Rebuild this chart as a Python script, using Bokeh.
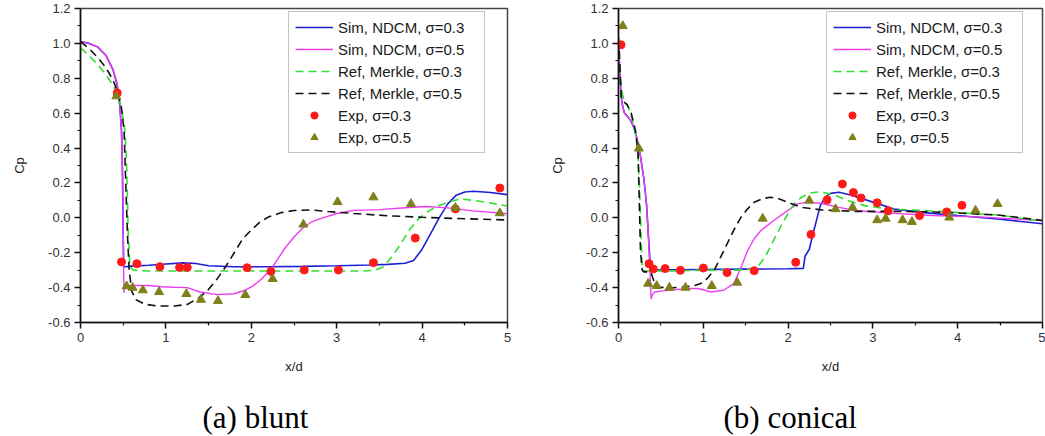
from bokeh.plotting import figure
from bokeh.layouts import row, column
from bokeh.models import Range1d, FixedTicker, PrintfTickFormatter, Label
from bokeh.embed import file_html
from bokeh.resources import INLINE

# ---------------- (a) blunt ----------------
blunt_sim03_x = [0, 0.1, 0.2, 0.3, 0.38, 0.43, 0.46, 0.48, 0.49, 0.5, 0.505, 0.52, 0.6, 0.8, 1.0, 1.2, 1.35, 1.5, 1.8,
                 2.2, 2.6, 3.0, 3.4, 3.6, 3.8, 3.9, 4.0, 4.1, 4.2, 4.3, 4.4, 4.5, 4.6, 4.8, 5.0]
blunt_sim03_y = [1.01, 1.0, 0.98, 0.93, 0.85, 0.76, 0.64, 0.5, 0.3, -0.1, -0.28, -0.28, -0.277, -0.272, -0.265, -0.258,
                 -0.262, -0.275, -0.28, -0.28, -0.278, -0.275, -0.27, -0.267, -0.26, -0.245, -0.18, -0.09, 0.0, 0.08,
                 0.13, 0.148, 0.152, 0.145, 0.133]

blunt_sim05_x = [0, 0.1, 0.2, 0.3, 0.38, 0.43, 0.46, 0.48, 0.495, 0.505, 0.51, 0.515, 0.53, 0.6, 0.8, 0.95, 1.1, 1.25,
                 1.4, 1.6, 1.8, 1.93, 2.02, 2.11, 2.2, 2.27, 2.4, 2.5, 2.6, 2.7, 2.8, 3.0, 3.2, 3.5, 3.8, 4.05, 4.3,
                 4.6, 5.0]
blunt_sim05_y = [1.01, 1.0, 0.98, 0.93, 0.85, 0.77, 0.66, 0.5, 0.2, -0.3, -0.43, -0.40, -0.39, -0.387, -0.388, -0.395,
                 -0.398, -0.40, -0.425, -0.44, -0.435, -0.415, -0.39, -0.355, -0.31, -0.265, -0.17, -0.11, -0.06,
                 -0.025, -0.006, 0.025, 0.043, 0.047, 0.058, 0.065, 0.057, 0.04, 0.023]

blunt_ref03_x = [0, 0.1, 0.2, 0.3, 0.38, 0.43, 0.48, 0.52, 0.54, 0.56, 0.58, 0.62, 0.8, 1.5, 2.5, 3.3, 3.45, 3.55, 3.65,
                 3.75, 3.85, 3.95, 4.05, 4.15, 4.3, 4.45, 4.6, 4.8, 5.0]
blunt_ref03_y = [0.975, 0.93, 0.88, 0.82, 0.76, 0.71, 0.63, 0.5, 0.3, -0.1, -0.28, -0.3, -0.305, -0.305, -0.305, -0.305,
                 -0.3, -0.28, -0.22, -0.15, -0.07, -0.01, 0.03, 0.06, 0.09, 0.108, 0.1, 0.085, 0.068]

blunt_ref05_x = [0, 0.1, 0.2, 0.3, 0.38, 0.43, 0.48, 0.51, 0.53, 0.55, 0.57, 0.6, 0.65, 0.75, 0.9, 1.1, 1.25, 1.38, 1.5,
                 1.6, 1.7, 1.8, 1.9, 2.0, 2.1, 2.2, 2.35, 2.5, 2.7, 2.9, 3.2, 3.6, 4.0, 4.4, 5.0]
blunt_ref05_y = [1.01, 0.97, 0.92, 0.86, 0.79, 0.73, 0.63, 0.5, 0.2, -0.1, -0.3, -0.42, -0.47, -0.495, -0.505, -0.505,
                 -0.497, -0.46, -0.41, -0.35, -0.28, -0.2, -0.12, -0.07, -0.025, 0.005, 0.03, 0.042, 0.045, 0.036,
                 0.025, 0.012, 0.003, -0.004, -0.012]

blunt_exp03_x = [0.43, 0.48, 0.66, 0.93, 1.16, 1.25, 1.95, 2.23, 2.62, 3.02, 3.43, 3.92, 4.39, 4.91]
blunt_exp03_y = [0.716, -0.253, -0.263, -0.28, -0.284, -0.284, -0.286, -0.307, -0.299, -0.299, -0.257, -0.116, 0.051,
                 0.171]

blunt_exp05_x = [0.42, 0.54, 0.61, 0.73, 0.92, 1.24, 1.41, 1.61, 1.93, 2.25, 2.61, 3.01, 3.43, 3.87, 4.39, 4.91]
blunt_exp05_y = [0.697, -0.392, -0.40, -0.415, -0.425, -0.436, -0.469, -0.476, -0.442, -0.35, -0.038, 0.091, 0.118,
                 0.08, 0.058, 0.027]

# ---------------- (b) conical ----------------
con_sim03_x = [0, 0.01, 0.02, 0.04, 0.07, 0.1, 0.14, 0.18, 0.22, 0.26, 0.3, 0.33, 0.35, 0.37, 0.385, 0.4, 0.6, 1.0,
               1.5, 2.0, 2.18, 2.2, 2.25, 2.3, 2.38, 2.44, 2.5, 2.6, 2.75, 3.0, 3.25, 3.6, 4.0, 4.5, 5.0]
con_sim03_y = [1.0, 0.9, 0.78, 0.66, 0.6, 0.585, 0.56, 0.52, 0.45, 0.35, 0.22, 0.08, -0.08, -0.24, -0.29, -0.3,
               -0.298, -0.296, -0.294, -0.292, -0.29, -0.22, -0.18, -0.08, 0.07, 0.12, 0.14, 0.147, 0.13, 0.09, 0.05,
               0.03, 0.013, -0.008, -0.034]

con_sim05_x = [0, 0.01, 0.02, 0.04, 0.07, 0.1, 0.14, 0.18, 0.22, 0.26, 0.3, 0.33, 0.35, 0.37, 0.385, 0.4, 0.43, 0.5,
               0.7, 0.85, 0.93, 1.0, 1.09, 1.24, 1.36, 1.44, 1.52, 1.6, 1.68, 1.83, 1.99, 2.11, 2.23, 2.4, 2.6, 2.8,
               3.2, 3.7, 4.3, 5.0]
con_sim05_y = [1.0, 0.9, 0.78, 0.66, 0.6, 0.585, 0.56, 0.52, 0.45, 0.35, 0.22, 0.08, -0.08, -0.3, -0.465, -0.44,
               -0.425, -0.42, -0.41, -0.405, -0.405, -0.412, -0.425, -0.415, -0.377, -0.29, -0.19, -0.12, -0.073,
               -0.015, 0.04, 0.08, 0.09, 0.082, 0.06, 0.042, 0.027, 0.013, 0.004, -0.015]

con_ref03_x = [0, 0.02, 0.05, 0.08, 0.12, 0.16, 0.2, 0.23, 0.25, 0.265, 0.28, 0.3, 0.35, 0.6, 1.0, 1.4, 1.55, 1.64,
               1.72, 1.79, 1.86, 1.93, 2.0, 2.07, 2.15, 2.23, 2.3, 2.38, 2.55, 2.7, 2.9, 3.2, 3.6, 4.0, 4.5, 5.0]
con_ref03_y = [0.95, 0.8, 0.7, 0.66, 0.63, 0.57, 0.48, 0.38, 0.15, -0.1, -0.28, -0.305, -0.305, -0.305, -0.3, -0.3,
               -0.295, -0.282, -0.23, -0.168, -0.1, -0.034, 0.025, 0.08, 0.115, 0.137, 0.145, 0.15, 0.13, 0.1, 0.07,
               0.05, 0.042, 0.03, 0.015, -0.02]

con_ref05_x = [0, 0.01, 0.02, 0.035, 0.05, 0.1, 0.15, 0.2, 0.23, 0.245, 0.26, 0.28, 0.3, 0.38, 0.43, 0.48, 0.6, 0.77,
               0.9, 0.97, 1.05, 1.13, 1.2, 1.28, 1.36, 1.44, 1.52, 1.6, 1.7, 1.79, 1.9, 1.99, 2.15, 2.4, 2.8, 3.2,
               3.6, 4.0, 4.5, 5.0]
con_ref05_y = [1.03, 0.95, 0.83, 0.68, 0.67, 0.65, 0.6, 0.5, 0.38, 0.1, -0.2, -0.3, -0.31, -0.31, -0.38, -0.397,
               -0.402, -0.397, -0.388, -0.377, -0.345, -0.3, -0.23, -0.15, -0.07, 0.0, 0.05, 0.089, 0.11, 0.118,
               0.108, 0.09, 0.061, 0.045, 0.037, 0.037, 0.035, 0.028, 0.015, -0.015]

con_exp03_x = [0.03, 0.36, 0.41, 0.55, 0.73, 1.0, 1.28, 1.6, 2.09, 2.27, 2.46, 2.64, 2.77, 2.86, 3.05, 3.18, 3.55,
               3.87, 4.05]
con_exp03_y = [0.992, -0.263, -0.293, -0.291, -0.301, -0.288, -0.314, -0.303, -0.255, -0.095, 0.103, 0.194, 0.145,
               0.114, 0.086, 0.04, 0.013, 0.034, 0.072]

con_exp05_x = [0.05, 0.24, 0.35, 0.45, 0.6, 0.79, 1.1, 1.4, 1.7, 2.25, 2.56, 2.76, 3.05, 3.15, 3.35, 3.46, 3.9, 4.21,
               4.47]
con_exp05_y = [1.1, 0.398, -0.377, -0.39, -0.4, -0.4, -0.39, -0.371, -0.004, 0.099, 0.05, 0.059, -0.013, -0.004,
               -0.013, -0.023, 0.002, 0.042, 0.08]

# ---------------- axes / labels ----------------
x_ticks = [0, 1, 2, 3, 4, 5]
x_minor = [0.5, 1.5, 2.5, 3.5, 4.5]
y_ticks = [-0.6, -0.4, -0.2, 0.0, 0.2, 0.4, 0.6, 0.8, 1.0, 1.2]
y_minor = [-0.5, -0.3, -0.1, 0.1, 0.3, 0.5, 0.7, 0.9, 1.1]
series_labels = ["Sim, NDCM, σ=0.3", "Sim, NDCM, σ=0.5", "Ref, Merkle, σ=0.3", "Ref, Merkle, σ=0.5",
                 "Exp, σ=0.3", "Exp, σ=0.5"]
captions = ["(a) blunt", "(b) conical"]

C_BLUE = "#1f1fd6"
C_MAG = "#f03cf0"
C_GREEN = "#33dd33"
C_BLACK = "#111111"
C_RED = "#ff1a1a"
C_OLIVE = "#7f7f1c"

FONT = "Liberation Sans"
TOP_H = 386
CAP_H = 436 - TOP_H


def make_panel(width, min_left, min_right, data):
    p = figure(width=width, height=TOP_H, output_backend="svg", toolbar_location=None,
               x_range=Range1d(0, 5), y_range=Range1d(-0.6, 1.2),
               min_border_left=min_left, min_border_right=min_right,
               min_border_top=8, min_border_bottom=64)
    p.xgrid.visible = False
    p.ygrid.visible = False
    p.outline_line_color = "#444444"
    p.outline_line_width = 1.5
    p.background_fill_color = "white"
    p.border_fill_color = "white"

    (s3x, s3y), (s5x, s5y), (r3x, r3y), (r5x, r5y), (e3x, e3y), (e5x, e5y) = data
    p.line(s3x, s3y, color=C_BLUE, line_width=1.6, legend_label=series_labels[0])
    p.line(s5x, s5y, color=C_MAG, line_width=1.4, legend_label=series_labels[1])
    p.line(r3x, r3y, color=C_GREEN, line_width=1.6, line_dash="8 5", legend_label=series_labels[2])
    p.line(r5x, r5y, color=C_BLACK, line_width=1.6, line_dash="8 5", legend_label=series_labels[3])
    p.scatter(e3x, e3y, marker="circle", size=8, color=C_RED, legend_label=series_labels[4])
    p.scatter(e5x, e5y, marker="triangle", size=9, color=C_OLIVE, legend_label=series_labels[5])

    for ax in (p.xaxis[0], p.yaxis[0]):
        ax.axis_line_width = 1.5
        ax.axis_line_color = "#111111"
        ax.major_tick_line_width = 1.5
        ax.major_tick_line_color = "#111111"
        ax.minor_tick_line_color = "#111111"
        ax.minor_tick_line_width = 1.2
        ax.major_tick_out = 6
        ax.major_tick_in = 0
        ax.minor_tick_out = 3
        ax.minor_tick_in = 0
        ax.major_label_text_font = FONT
        ax.major_label_text_font_size = "13px"
        ax.major_label_text_color = "#333333"
        ax.major_label_standoff = 4
        ax.axis_label_text_font = FONT
        ax.axis_label_text_font_size = "13px"
        ax.axis_label_text_font_style = "normal"
        ax.axis_label_text_color = "#222222"

    p.xaxis.ticker = FixedTicker(ticks=x_ticks, minor_ticks=x_minor)
    p.yaxis.ticker = FixedTicker(ticks=y_ticks, minor_ticks=y_minor)
    p.yaxis.formatter = PrintfTickFormatter(format="%.1f")
    p.xaxis.axis_label = "x/d"
    p.yaxis.axis_label = "Cp"
    p.xaxis.axis_label_standoff = 14
    p.yaxis.axis_label_standoff = 18

    leg = p.legend[0]
    leg.location = (208, 169)
    leg.border_line_color = "#8c8c8c"
    leg.border_line_width = 1
    leg.background_fill_color = "white"
    leg.background_fill_alpha = 1.0
    leg.padding = 6
    leg.spacing = 4
    leg.margin = 0
    leg.glyph_width = 38
    leg.glyph_height = 18
    leg.label_height = 18
    leg.label_width = 140
    leg.label_standoff = 5
    leg.label_text_font = FONT
    leg.label_text_font_size = "15px"
    leg.label_text_color = "#1a1a1a"
    return p


p1 = make_panel(538, 80, 31,
                [(blunt_sim03_x, blunt_sim03_y), (blunt_sim05_x, blunt_sim05_y),
                 (blunt_ref03_x, blunt_ref03_y), (blunt_ref05_x, blunt_ref05_y),
                 (blunt_exp03_x, blunt_exp03_y), (blunt_exp05_x, blunt_exp05_y)])
p2 = make_panel(507, 80, 3,
                [(con_sim03_x, con_sim03_y), (con_sim05_x, con_sim05_y),
                 (con_ref03_x, con_ref03_y), (con_ref05_x, con_ref05_y),
                 (con_exp03_x, con_exp03_y), (con_exp05_x, con_exp05_y)])

# caption strip: a blank figure whose ranges are its own pixel size
cap = figure(width=1045, height=CAP_H, output_backend="svg", toolbar_location=None,
             x_range=Range1d(0, 1045), y_range=Range1d(0, CAP_H),
             min_border=0, x_axis_type=None, y_axis_type=None)
cap.xgrid.visible = False
cap.ygrid.visible = False
cap.outline_line_color = None
cap.border_fill_color = "white"
for txt, cx in zip(captions, [202, 723]):
    cap.add_layout(Label(x=cx, y=19, text=txt, text_font="Liberation Serif", text_font_size="31px",
                         text_baseline="alphabetic", text_align="left", text_color="#000000"))

layout = column(row(p1, p2), cap)
open("out.html", "w").write(file_html(layout, INLINE))
